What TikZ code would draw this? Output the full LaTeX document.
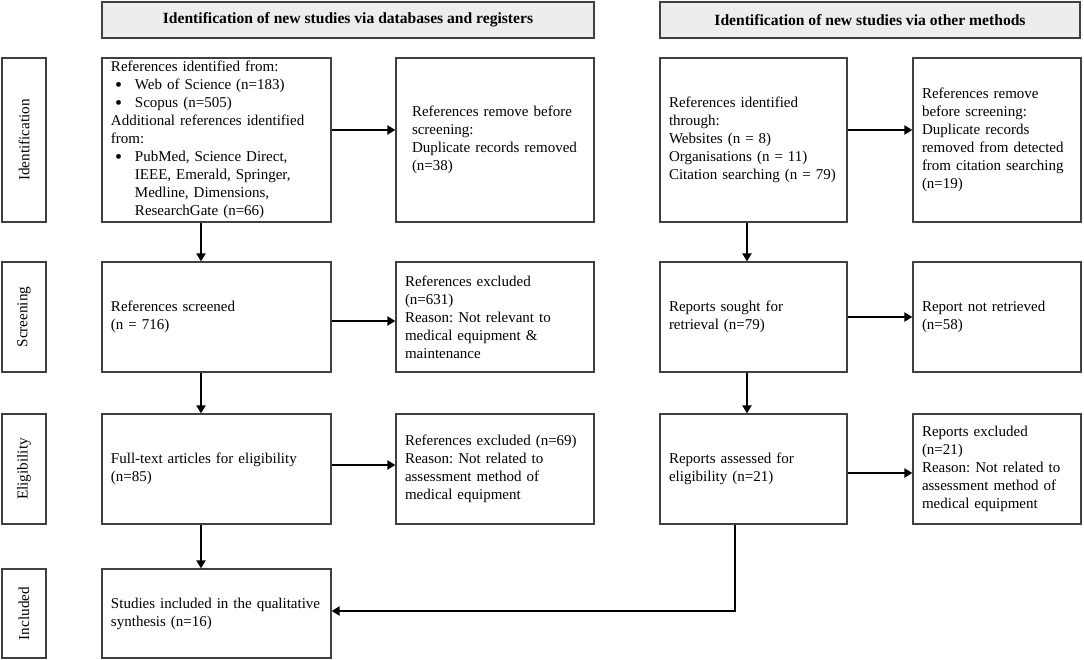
\documentclass[tikz,border=0pt]{standalone}
\usepackage{fontspec}
\setmainfont{Liberation Serif}
\usetikzlibrary{arrows.meta}
\frenchspacing

\newcommand{\dbitem}{\makebox[12pt][l]{\hspace{2pt}\raisebox{-0.8pt}{\fontsize{10}{9}\selectfont\textbullet}}}
\newcommand{\dbindent}{\hspace*{12pt}}

\tikzset{
  stagebox/.style={draw=black!75, line width=0.6pt, rectangle, align=left, inner xsep=4.5pt, inner ysep=1pt, font=\fontsize{7.5}{9}\selectfont},
  headbox/.style={draw=black!75, line width=0.6pt, rectangle, fill=black!7, font=\bfseries\fontsize{7.8}{9}\selectfont, minimum height=18pt},
  phasebox/.style={draw=black!75, line width=0.6pt, rectangle, rotate=90, font=\fontsize{7.6}{9}\selectfont, minimum height=22pt, inner sep=1pt},
  arrowline/.style={-{Triangle[length=4pt,width=4.5pt]}, line width=1pt},
}

\begin{document}
\begin{tikzpicture}[x=0.5pt, y=-0.5pt]
    \useasboundingbox (0,0) rectangle (1084,660);

    % Headers
    \node (headdb) [headbox, minimum width=246pt] at (348,20) {Identification of new studies via databases and registers};
    \node (headother) [headbox, minimum width=210pt] at (870,20) {Identification of new studies via other methods};

    % Phase labels
    \node (phaseid) [phasebox, minimum width=82pt] at (24,140) {Identification};
    \node (phasescr) [phasebox, minimum width=55pt] at (24,317) {Screening};
    \node (phaseelig) [phasebox, minimum width=55pt] at (24,469) {Eligibility};
    \node (phaseinc) [phasebox, minimum width=44.5pt] at (24,613.5) {Included};

    % Databases and registers
    \node (refsid) [stagebox, text width=105.5pt, minimum height=82pt] at (216.5,140) {References identified from:\\
        \dbitem Web of Science (n=183)\\
        \dbitem Scopus (n=505)\\
        Additional references identified\\
        from:\\
        \dbitem PubMed, Science Direct,\\
        \dbindent IEEE, Emerald, Springer,\\
        \dbindent Medline, Dimensions,\\
        \dbindent ResearchGate (n=66)};
    \node (refsdup) [stagebox, inner xsep=8pt, text width=83pt, minimum height=82pt] at (495,140) {References remove before\\ screening:\\ Duplicate records removed\\ (n=38)};
    \node (screened) [stagebox, text width=105.5pt, minimum height=55pt] at (216.5,317) {References screened\\ (n = 716)};
    \node (screxcl) [stagebox, text width=90pt, minimum height=55pt] at (495,317) {References excluded\\ (n=631)\\ Reason: Not relevant to\\ medical equipment \&\\ maintenance};
    \node (fulltext) [stagebox, text width=105.5pt, minimum height=55pt] at (216.5,469) {Full-text articles for eligibility\\ (n=85)};
    \node (fullexcl) [stagebox, text width=90pt, minimum height=55pt] at (495,469) {References excluded (n=69)\\ Reason: Not related to\\ assessment method of\\ medical equipment};
    \node (included) [stagebox, text width=105.5pt, minimum height=44.5pt] at (216.5,613.5) {Studies included in the qualitative\\ synthesis (n=16)};

    % Other methods
    \node (othid) [stagebox, text width=84.5pt, minimum height=82pt] at (753.5,140) {References identified\\ through:\\ Websites (n = 8)\\ Organisations (n = 11)\\ Citation searching (n = 79)};
    \node (othdup) [stagebox, text width=75pt, minimum height=82pt] at (997,140) {References remove\\ before screening:\\ Duplicate records\\ removed from detected\\ from citation searching\\ (n=19)};
    \node (sought) [stagebox, text width=84.5pt, minimum height=55pt] at (753.5,317) {Reports sought for\\ retrieval (n=79)};
    \node (notretr) [stagebox, text width=75pt, minimum height=55pt] at (997,317) {Report not retrieved\\ (n=58)};
    \node (assessed) [stagebox, text width=84.5pt, minimum height=55pt] at (753.5,469) {Reports assessed for\\ eligibility (n=21)};
    \node (repexcl) [stagebox, text width=75pt, minimum height=55pt] at (997,469) {Reports excluded\\ (n=21)\\ Reason: Not related to\\ assessment method of\\ medical equipment};

    % Lanes for the vertical arrows
    \coordinate (leftlane) at (201,0);
    \coordinate (rightlane) at (747,0);
    \coordinate (droplane) at (735,0);

    % Arrows
    \draw[arrowline] (refsid.south -| leftlane) -- (screened.north -| leftlane);
    \draw[arrowline] (screened.south -| leftlane) -- (fulltext.north -| leftlane);
    \draw[arrowline] (fulltext.south -| leftlane) -- (included.north -| leftlane);
    \draw[arrowline] ([yshift=5pt]refsid.east) -- ([yshift=5pt]refsdup.west);
    \draw[arrowline] ([yshift=-2pt]screened.east) -- ([yshift=-2pt]screxcl.west);
    \draw[arrowline] ([yshift=2pt]fulltext.east) -- ([yshift=2pt]fullexcl.west);
    \draw[arrowline] (othid.south -| rightlane) -- (sought.north -| rightlane);
    \draw[arrowline] (sought.south -| rightlane) -- (assessed.north -| rightlane);
    \draw[arrowline] ([yshift=5pt]othid.east) -- ([yshift=5pt]othdup.west);
    \draw[arrowline] (sought.east) -- (notretr.west);
    \draw[arrowline] ([yshift=-2pt]assessed.east) -- ([yshift=-2pt]repexcl.west);
    \draw[arrowline] (assessed.south -| droplane) |- ([yshift=1.25pt]included.east);
\end{tikzpicture}
\end{document}
